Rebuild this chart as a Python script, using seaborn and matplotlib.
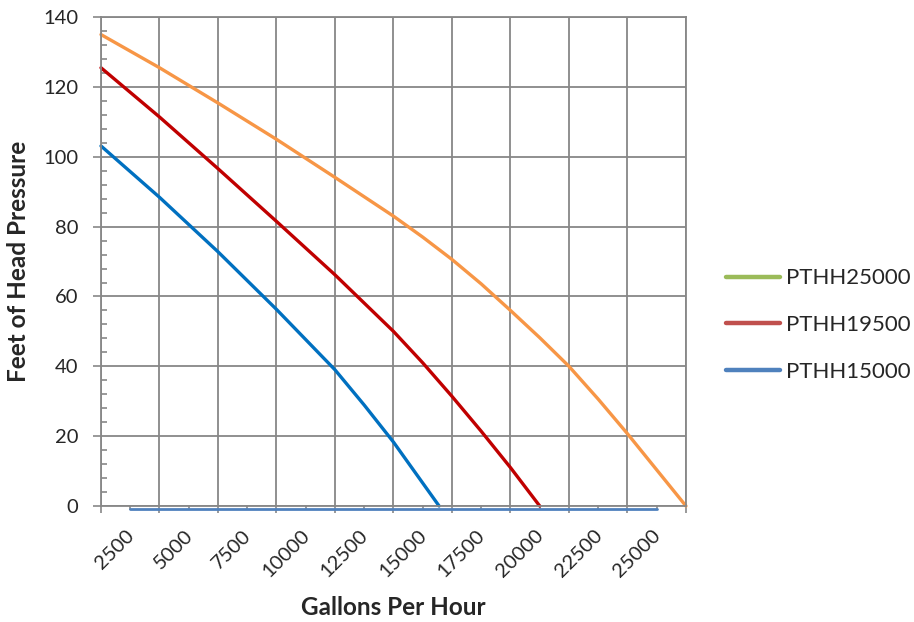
import matplotlib
matplotlib.use("Agg")
import matplotlib.pyplot as plt
import matplotlib.transforms as mtransforms
from matplotlib.lines import Line2D
import seaborn as sns
import pandas as pd

# Pump curves (gallons per hour vs feet of head)
gph_25000 = [1250, 3750, 6250, 8750, 11250, 13750, 15000, 16250, 17500, 18750,
             20000, 21250, 22500, 23750, 26250]
head_25000 = [135.0, 125.5, 115.4, 105.0, 94.1, 83.0, 77.0, 70.6, 63.6, 56.0,
              48.2, 40.0, 30.6, 20.7, 0.0]

gph_19500 = [1250, 3750, 6250, 8750, 11250, 13750, 15000, 16250, 17500, 18750, 20000]
head_19500 = [125.5, 111.4, 96.6, 81.5, 66.2, 50.0, 41.0, 31.4, 21.4, 11.0, 0.0]

gph_15000 = [1250, 3750, 6250, 8750, 11250, 12500, 13750, 15700]
head_15000 = [103.1, 88.4, 72.8, 56.3, 39.0, 28.9, 18.3, 0.0]

# flat series sitting on the x axis
flat_gph = [2500, 25000]
flat_head = [0, 0]

x_labels = ["2500", "5000", "7500", "10000", "12500", "15000",
            "17500", "20000", "22500", "25000"]
x_label_pos = [2500, 5000, 7500, 10000, 12500, 15000, 17500, 20000, 22500, 25000]
x_grid = [1250, 3750, 6250, 8750, 11250, 13750, 16250, 18750, 21250, 23750, 26250]

legend_names = ["PTHH25000", "PTHH19500", "PTHH15000"]
legend_colors = ["#9BBB59", "#C0504D", "#4F81BD"]

sns.set_style("white")
plt.rcParams["font.family"] = ["Lato", "DejaVu Sans"]

fig = plt.figure(figsize=(9.14, 6.22), dpi=100)
ax = fig.add_axes([0.1105, 0.1865, 0.64, 0.786])

grid_col = "#878787"
ax.set_xlim(1250, 26250)
ax.set_ylim(0, 140)
ax.set_xticks(x_grid)
ax.set_xticklabels([])
ax.set_xticks(x_label_pos, minor=True)
ax.set_xticklabels(x_labels, minor=True, rotation=45, ha="right", va="top",
                   rotation_mode="anchor", fontsize=14.5)
ax.set_yticks(range(0, 141, 20))
ax.set_yticks(range(0, 141, 4), minor=True)
ax.tick_params(which="both", bottom=True, left=True)
ax.tick_params(axis="y", which="major", length=6, width=1.2, color=grid_col,
               labelsize=14.5, pad=10.5)
ax.tick_params(axis="y", which="minor", length=4, width=1.2, color=grid_col,
               direction="in")
ax.tick_params(axis="x", which="major", length=5, width=1.2, color=grid_col)
ax.tick_params(axis="x", which="minor", length=3, width=1.2, color=grid_col, pad=12)
ax.grid(True, which="major", color=grid_col, linewidth=1.3)
for s in ax.spines.values():
    s.set_color(grid_col)
    s.set_linewidth(1.3)

# nudge the rotated labels left a little, like the original
nudge = mtransforms.ScaledTranslation(-5 / 100, 0, fig.dpi_scale_trans)
for lab in ax.get_xticklabels(minor=True):
    lab.set_transform(lab.get_transform() + nudge)

curves = pd.DataFrame({
    "gph": gph_25000 + gph_19500 + gph_15000,
    "head": head_25000 + head_19500 + head_15000,
    "pump": ["25000"] * len(gph_25000) + ["19500"] * len(gph_19500)
            + ["15000"] * len(gph_15000),
})
sns.lineplot(data=curves, x="gph", y="head", hue="pump",
             palette={"25000": "#F79646", "19500": "#C00000", "15000": "#0070C0"},
             linewidth=2.4, legend=False, ax=ax, clip_on=False, sort=False,
             estimator=None, solid_joinstyle="round")

shift = mtransforms.offset_copy(ax.transData, fig=fig, y=-3, units="dots")
ax.plot(flat_gph, flat_head, color="#4F81BD", linewidth=2, transform=shift,
        clip_on=False, zorder=1)

ax.set_xlabel("Gallons Per Hour", fontsize=17.5, fontweight="bold")
ax.set_ylabel("Feet of Head Pressure", fontsize=17.5, fontweight="bold")
ax.xaxis.set_label_coords(0.5, -0.185)
ax.yaxis.set_label_coords(-0.122, 0.5)

handles = [Line2D([0], [0], color=c, linewidth=3.2, solid_capstyle="round")
           for c in legend_colors]
fig.legend(handles, legend_names, loc="center left",
           bbox_to_anchor=(726 / 914, 1 - 325 / 622), frameon=False,
           fontsize=16, handlelength=2.45, handletextpad=0.25, labelspacing=1.2,
           borderpad=0, borderaxespad=0)

fig.savefig("out.png", dpi=100)
